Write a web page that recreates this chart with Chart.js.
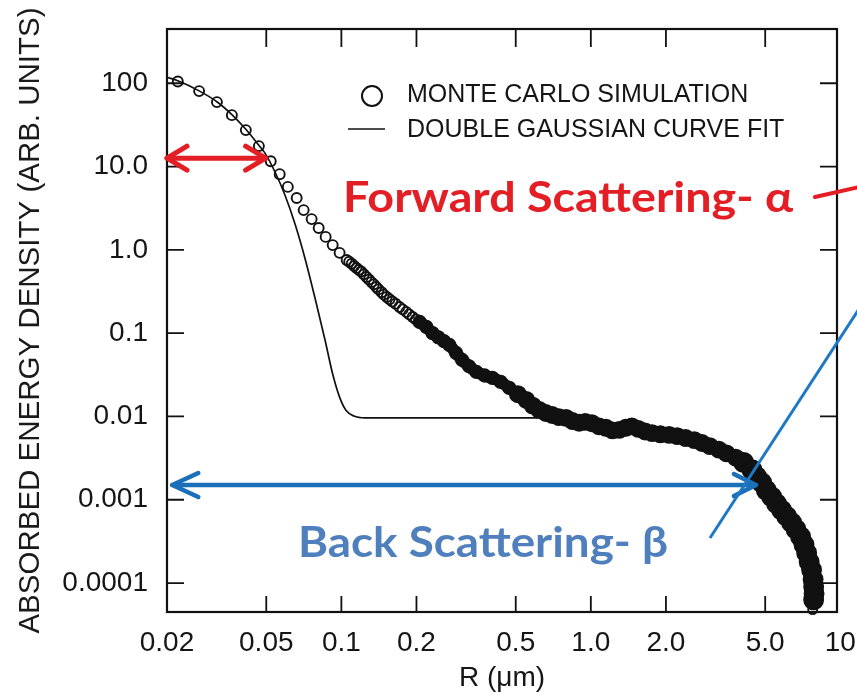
<!DOCTYPE html>
<html><head><meta charset="utf-8">
<script src="https://cdn.jsdelivr.net/npm/chart.js@4.4.1/dist/chart.umd.min.js"></script>
<style>html,body{margin:0;padding:0;background:#fff;overflow:hidden}#wrap{width:857px;height:697px}</style>
</head><body><div id="wrap"><canvas id="c" width="857" height="697"></canvas></div>
<script>
// ---------- data ----------
const xTickValues = [0.02, 0.05, 0.1, 0.2, 0.5, 1, 2, 5, 10];
const xTickLabels = ['0.02', '0.05', '0.1', '0.2', '0.5', '1.0', '2.0', '5.0', '10'];
const yTickValues = [100, 10, 1, 0.1, 0.01, 0.001, 0.0001];
const yTickLabels = ['100', '10.0', '1.0', '0.1', '0.01', '0.001', '0.0001'];
const seriesNames = ['MONTE CARLO SIMULATION', 'DOUBLE GAUSSIAN CURVE FIT'];

// Monte Carlo simulation: R (um) and absorbed energy density
const mcR = [0.0221, 0.0269, 0.0317, 0.0364, 0.0414, 0.0467, 0.0521, 0.0566, 0.061, 0.0662, 0.0706, 0.076, 0.0811, 0.0865, 0.0923, 0.0984, 0.105,
  0.1075, 0.110, 0.1125, 0.115, 0.1175, 0.120, 0.123, 0.126, 0.129, 0.132, 0.135, 0.138, 0.141, 0.145, 0.148, 0.152, 0.156, 0.160, 0.165, 0.171,
  0.176, 0.182, 0.187, 0.193, 0.199, 0.206, 0.219, 0.232, 0.245, 0.258, 0.271, 0.288, 0.305,
  0.325, 0.348, 0.375, 0.403, 0.435, 0.471, 0.510, 0.551, 0.585, 0.621, 0.660, 0.700, 0.745, 0.796, 0.845, 0.898, 0.950, 1.01, 1.08, 1.15,
  1.22, 1.30, 1.38, 1.46, 1.55, 1.65, 1.76, 1.90, 2.06, 2.22, 2.40, 2.60, 2.79, 3.00, 3.26, 3.50, 3.81, 4.10, 4.42, 4.62, 4.84, 5.05, 5.31,
  5.55, 5.82, 6.10, 6.38, 6.65, 6.93, 7.15, 7.33, 7.50, 7.67, 7.78, 7.82, 7.85, 7.82, 7.75];
const mcE = [105, 80.5, 59.4, 41.4, 27.4, 17.6, 11.6, 8.1, 5.7, 4.2, 3.0, 2.34, 1.83, 1.43, 1.14, 0.92, 0.755,
  0.72, 0.68, 0.64, 0.605, 0.575, 0.55, 0.51, 0.472, 0.44, 0.41, 0.385, 0.358, 0.335, 0.31, 0.29, 0.272, 0.255, 0.24, 0.225, 0.206,
  0.193, 0.18, 0.168, 0.156, 0.146, 0.136, 0.119, 0.100, 0.089, 0.080, 0.0721, 0.058, 0.0476,
  0.040, 0.0342, 0.031, 0.029, 0.026, 0.022, 0.0185, 0.0158, 0.0135, 0.012, 0.011, 0.0104, 0.0098, 0.0096, 0.0088, 0.0084, 0.0086, 0.0083, 0.0076, 0.0073,
  0.0068, 0.0069, 0.0073, 0.0076, 0.0071, 0.0066, 0.0063, 0.0061, 0.0060, 0.0058, 0.0055, 0.0052, 0.0048, 0.0044, 0.0040, 0.0036, 0.0032, 0.0028, 0.0023, 0.0019, 0.0016, 0.0013, 0.00108,
  0.0009, 0.00075, 0.00063, 0.00053, 0.00044, 0.00036, 0.00029, 0.00023, 0.00018, 0.000144, 0.00011, 0.00009, 0.000075, 0.000063, 0.000048];

// Double Gaussian curve fit
const fitR = [0.02, 0.0221, 0.0269, 0.0317, 0.0364, 0.0414, 0.0467, 0.0494, 0.0542, 0.0594, 0.0652, 0.0714, 0.0784, 0.0860, 0.0925, 0.0987, 0.1043, 0.1123, 0.1243, 0.15, 0.2, 0.4, 0.8];
const fitE = [118, 107, 81, 60, 42, 28, 18, 14.5, 8.6, 4.55, 2.04, 0.80, 0.264, 0.0826, 0.0314, 0.0166, 0.0119, 0.0101, 0.0096, 0.0096, 0.0096, 0.0096, 0.0096];

// annotation anchors (data space)
const alphaArrow = {y: 12.6, from: 0.02, to: 0.0497};
const betaArrow = {y: 0.0015, from: 0.021, to: 4.59};
const bandFromR = 0.2;

// ---------- chart ----------
const mcPoints = mcR.map((r, i) => ({x: r, y: mcE[i]}));
const bandPoints = mcPoints.filter((p, i) => p.x >= bandFromR && i < mcPoints.length - 1);
const fitPoints = fitR.map((r, i) => ({x: r, y: fitE[i]}));
const lastIdx = mcPoints.length - 1;

const FONT = '"Liberation Sans", Arial, Helvetica, sans-serif';

function arrowHead(ctx, tx, ty, dir, len, half) {
  ctx.beginPath();
  ctx.moveTo(tx - dir * len, ty - half);
  ctx.lineTo(tx, ty);
  ctx.lineTo(tx - dir * len, ty + half);
  ctx.stroke();
}
function fitText(ctx, text, left, base, width, font, color) {
  ctx.save();
  ctx.font = font;
  const w = ctx.measureText(text).width;
  ctx.translate(left, base);
  ctx.scale(width / w, 1);
  ctx.fillStyle = color;
  ctx.textBaseline = 'alphabetic';
  ctx.fillText(text, 0, 0);
  ctx.restore();
}

const frameTicks = {
  id: 'frameTicks',
  afterDatasetsDraw(chart) {
    const {ctx, chartArea: a, scales: {x, y}} = chart;
    ctx.save();
    ctx.strokeStyle = '#111';
    ctx.lineWidth = 2.2;
    ctx.strokeRect(a.left, a.top, a.right - a.left, a.bottom - a.top);
    ctx.lineWidth = 1.8;
    ctx.beginPath();
    xTickValues.forEach(v => {
      const px = x.getPixelForValue(v);
      if (px <= a.left + 3 || px >= a.right - 3) return;
      ctx.moveTo(px, a.bottom); ctx.lineTo(px, a.bottom - 16);
      ctx.moveTo(px, a.top); ctx.lineTo(px, a.top + 18);
    });
    yTickValues.forEach(v => {
      const py = y.getPixelForValue(v);
      ctx.moveTo(a.left, py); ctx.lineTo(a.left + 17, py);
      ctx.moveTo(a.right, py); ctx.lineTo(a.right - 17, py);
    });
    ctx.stroke();
    ctx.restore();
  }
};

const annotations = {
  id: 'annotations',
  afterDraw(chart) {
    const {ctx, chartArea: a, scales: {x, y}} = chart;
    ctx.save();
    // legend
    ctx.strokeStyle = '#111';
    ctx.lineWidth = 2;
    ctx.beginPath();
    ctx.arc(a.left + 205, a.top + 67, 10, 0, Math.PI * 2);
    ctx.stroke();
    ctx.lineWidth = 1.6;
    ctx.beginPath();
    ctx.moveTo(a.left + 181, a.top + 100); ctx.lineTo(a.left + 218, a.top + 100);
    ctx.stroke();
    ctx.fillStyle = '#151515';
    ctx.font = '25px ' + FONT;
    ctx.textBaseline = 'alphabetic';
    ctx.fillText(seriesNames[0], a.left + 240, a.top + 73);
    ctx.fillText(seriesNames[1], a.left + 240, a.top + 108);

    // red double arrow (forward scattering)
    const red = '#e31e24';
    ctx.strokeStyle = red;
    ctx.lineWidth = 5;
    ctx.lineCap = 'round';
    ctx.lineJoin = 'round';
    const ry = y.getPixelForValue(alphaArrow.y);
    const rx1 = x.getPixelForValue(alphaArrow.from), rx2 = x.getPixelForValue(alphaArrow.to);
    ctx.beginPath(); ctx.moveTo(rx1, ry); ctx.lineTo(rx2, ry); ctx.stroke();
    arrowHead(ctx, rx1, ry, -1, 20, 12);
    arrowHead(ctx, rx2, ry, 1, 20, 12);
    // red pointer line
    ctx.lineWidth = 4;
    ctx.beginPath();
    ctx.moveTo(a.right - 22, a.top + 168); ctx.lineTo(a.right + 22, a.top + 158);
    ctx.stroke();
    fitText(ctx, 'Forward Scattering- \u03b1', a.left + 176, a.top + 183, 450, 'bold 42px Lato, "Open Sans", sans-serif', red);

    // blue double arrow (back scattering)
    const blue = '#1b6fb8';
    ctx.strokeStyle = blue;
    ctx.lineWidth = 4.5;
    const by = y.getPixelForValue(betaArrow.y);
    const bx1 = x.getPixelForValue(betaArrow.from), bx2 = x.getPixelForValue(betaArrow.to);
    ctx.beginPath(); ctx.moveTo(bx1, by); ctx.lineTo(bx2, by); ctx.stroke();
    arrowHead(ctx, bx1, by, -1, 26, 12);
    arrowHead(ctx, bx2, by, 1, 22, 11);
    // blue pointer line
    ctx.strokeStyle = '#1f78c4';
    ctx.lineWidth = 3;
    ctx.lineCap = 'butt';
    ctx.beginPath();
    ctx.moveTo(a.left + 543, a.top + 509); ctx.lineTo(a.right + 22, a.top + 280);
    ctx.stroke();
    fitText(ctx, 'Back Scattering- \u03b2', a.left + 131, a.top + 528, 370, 'bold 42px Lato, "Open Sans", sans-serif', '#4f7fbd');
    ctx.restore();
  }
};

const rOf = (c) => (c.raw ? c.raw.x : 0);

new Chart(document.getElementById('c'), {
  type: 'scatter',
  data: {
    datasets: [
      {
        label: seriesNames[0],
        data: mcPoints,
        showLine: false,
        borderColor: '#111',
        backgroundColor: (c) => (rOf(c) >= bandFromR && c.dataIndex !== lastIdx ? '#111' : 'rgba(255,255,255,0)'),
        pointBorderWidth: 1.9,
        pointRadius: (c) => {
          if (c.dataIndex === lastIdx) return 4.5;
          const r = rOf(c);
          return r < 0.2 ? 5 : (r < 0.5 ? 6.2 : (r < 4 ? 8 : 9.5));
        },
        clip: 12
      },
      {
        label: 'band',
        data: bandPoints,
        showLine: true,
        borderColor: '#111',
        borderWidth: 12,
        pointRadius: 0,
        tension: 0.3,
        borderJoinStyle: 'round',
        borderCapStyle: 'round',
        clip: 12
      },
      {
        label: seriesNames[1],
        data: fitPoints,
        showLine: true,
        borderColor: '#111',
        borderWidth: 1.7,
        pointRadius: 0,
        cubicInterpolationMode: 'monotone',
        clip: 4
      }
    ]
  },
  options: {
    responsive: false,
    animation: false,
    devicePixelRatio: 1,
    layout: {padding: {top: 29, right: 20, left: 0, bottom: 0}},
    plugins: {legend: {display: false}, tooltip: {enabled: false}},
    events: [],
    scales: {
      x: {
        type: 'logarithmic',
        position: 'bottom',
        min: 0.02, max: 9.7,
        afterBuildTicks: s => { s.ticks = xTickValues.map(v => ({value: v})); },
        afterFit: s => { s.height = 85; s.paddingLeft = 0; s.paddingRight = 0; },
        grid: {display: false, drawTicks: false},
        border: {display: false},
        ticks: {
          autoSkip: false, maxRotation: 0, minRotation: 0, padding: 14,
          color: '#151515', font: {family: FONT, size: 28},
          callback: (v) => xTickLabels[xTickValues.indexOf(v)]
        },
        title: {display: true, text: 'R (\u03bcm)', color: '#151515', font: {family: FONT, size: 28}, padding: {top: 0, bottom: 2}}
      },
      y: {
        type: 'logarithmic',
        position: 'left',
        min: 4.49e-5, max: 448,
        afterBuildTicks: s => { s.ticks = yTickValues.map(v => ({value: v})); },
        afterFit: s => { s.width = 167; s.paddingTop = 0; s.paddingBottom = 0; },
        grid: {display: false, drawTicks: false},
        border: {display: false},
        ticks: {
          autoSkip: false, padding: 19,
          color: '#151515', font: {family: FONT, size: 28},
          callback: (v) => yTickLabels[yTickValues.indexOf(v)]
        },
        title: {display: true, text: 'ABSORBED ENERGY DENSITY (ARB. UNITS)', color: '#1a1a1a', font: {family: FONT, size: 29.5}, padding: {top: 13, bottom: 0}}
      }
    }
  },
  plugins: [frameTicks, annotations]
});
</script>
</body></html>
